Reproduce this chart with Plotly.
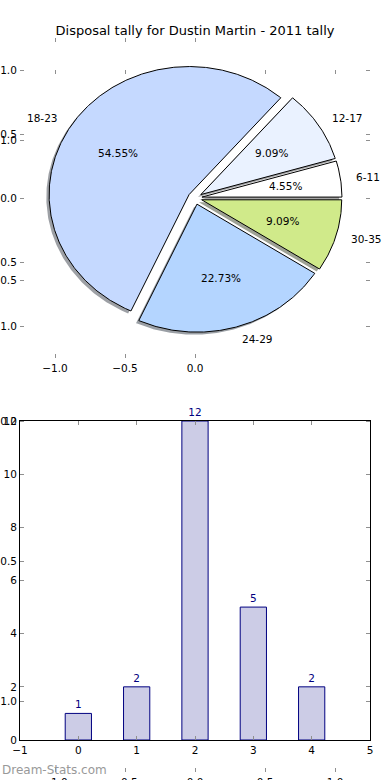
import numpy as np
import plotly.graph_objects as go

# ---- data ----
categories = ["6-11", "12-17", "18-23", "24-29", "30-35"]
tally = [1, 2, 12, 5, 2]
pie_colors = ["#ffffff", "#eaf2ff", "#c5d9ff", "#b4d5ff", "#d0ea8a"]
title = "Disposal tally for Dustin Martin - 2011 tally"
explode = 0.05
unit_ticks = [-1.0, -0.5, 0.0, 0.5, 1.0]
unit_text = ["\u22121.0", "\u22120.5", "0.0", "0.5", "1.0"]

W, H = 390, 780
FONT = "DejaVu Sans"
TICK = "#8f8f8f"


def px_x(p):
    return p / W


def px_y(p):
    return 1 - p / H


def hex_rgb(h):
    h = h.lstrip("#")
    return tuple(int(h[i:i + 2], 16) for i in (0, 2, 4))


fig = go.Figure()

# invisible trace so the full-figure background axes are drawn
fig.add_trace(go.Scatter(x=[0], y=[0], mode="markers", marker=dict(opacity=0),
                         xaxis="x", yaxis="y", hoverinfo="skip", showlegend=False))

# ---- pie drawn as wedges on a cartesian axis (xaxis2/yaxis2) ----
total = sum(tally)
start = 0.0
annotations = []
for cat, val, col in zip(categories, tally, pie_colors):
    span = 360.0 * val / total
    t1, t2 = start, start + span
    mid = np.deg2rad((t1 + t2) / 2)
    cx, cy = explode * np.cos(mid), explode * np.sin(mid)
    th = np.deg2rad(np.linspace(t1, t2, max(int(span * 2), 8)))
    xs = np.concatenate([[cx], cx + np.cos(th), [cx]])
    ys = np.concatenate([[cy], cy + np.sin(th), [cy]])
    r, g, b = hex_rgb(col)
    shadow = "rgba(%d,%d,%d,0.5)" % (int(0.3 * r), int(0.3 * g), int(0.3 * b))
    fig.add_trace(go.Scatter(x=xs - 0.02, y=ys - 0.02, mode="lines", fill="toself",
                             fillcolor=shadow, line=dict(width=0), xaxis="x2", yaxis="y2",
                             hoverinfo="skip", showlegend=False))
    fig.add_trace(go.Scatter(x=xs, y=ys, mode="lines", fill="toself", fillcolor=col,
                             line=dict(color="black", width=1), xaxis="x2", yaxis="y2",
                             hoverinfo="skip", showlegend=False))
    lx, ly = cx + 1.1 * np.cos(mid), cy + 1.1 * np.sin(mid)
    annotations.append(dict(x=lx, y=ly, xref="x2", yref="y2", text=cat, showarrow=False,
                            xanchor="left" if lx > 0 else "right", yanchor="middle",
                            font=dict(family=FONT, size=10.5, color="black")))
    pxp, pyp = cx + 0.6 * np.cos(mid), cy + 0.6 * np.sin(mid)
    annotations.append(dict(x=pxp, y=pyp, xref="x2", yref="y2",
                            text="%.2f%%" % (100.0 * val / total), showarrow=False,
                            xanchor="center", yanchor="middle",
                            font=dict(family=FONT, size=10.5, color="black")))
    start = t2

# ---- bar chart (xaxis3/yaxis3) ----
fig.add_trace(go.Bar(x=list(range(len(tally))), y=tally, width=0.45,
                     marker=dict(color="#ccccE6", line=dict(color="navy", width=1)),
                     text=[str(v) for v in tally], textposition="outside",
                     textfont=dict(family=FONT, size=10.5, color="navy"),
                     cliponaxis=False, xaxis="x3", yaxis="y3",
                     hoverinfo="skip", showlegend=False))

# watermark
annotations.append(dict(x=0, y=px_y(770), xref="paper", yref="paper", text="Dream-Stats.com",
                        showarrow=False, xanchor="left", yanchor="middle",
                        font=dict(family=FONT, size=12, color="#999999")))

tickfont = dict(family=FONT, size=10.5, color="black")
common = dict(ticks="inside", ticklen=4, tickwidth=1, tickcolor=TICK, showgrid=False,
              zeroline=False, tickfont=tickfont, fixedrange=True, automargin=False)
xdom = [px_x(20), px_x(370)]

fig.update_layout(
    width=W, height=H, margin=dict(l=0, r=0, t=0, b=0, autoexpand=False),
    paper_bgcolor="white", plot_bgcolor="rgba(0,0,0,0)",
    title=dict(text=title, x=0.5, xanchor="center", y=px_y(30), yanchor="middle",
               font=dict(family=FONT, size=13, color="black")),
    showlegend=False,
    annotations=annotations,
    # big background axes spanning the whole figure
    xaxis=dict(domain=xdom, range=[-1.25, 1.25], tickvals=unit_ticks, ticktext=unit_text,
               showline=True, linecolor="rgba(0,0,0,0)", mirror="ticks", anchor="y", **common),
    yaxis=dict(domain=[px_y(772), px_y(70)], range=[-1.25, 1.25], tickvals=unit_ticks,
               ticktext=unit_text, showline=True, linecolor="rgba(0,0,0,0)", mirror="ticks",
               anchor="x", **common),
    # pie axes
    xaxis2=dict(domain=xdom, range=[-1.25, 1.25], tickvals=[-1.0, -0.5, 0.0],
                ticktext=unit_text[:3], showline=True, linecolor="rgba(0,0,0,0)",
                mirror="ticks", anchor="y2", **common),
    yaxis2=dict(domain=[px_y(358), px_y(38)], range=[-1.25, 1.25], tickvals=unit_ticks,
                ticktext=unit_text, showline=True, linecolor="rgba(0,0,0,0)",
                mirror="ticks", anchor="x2", **common),
    # bar axes
    xaxis3=dict(domain=xdom, range=[-1, 5], tickvals=list(range(-1, 6)),
                ticktext=["\u22121", "0", "1", "2", "3", "4", "5"], showline=True,
                linecolor="black", linewidth=1, mirror="ticks", anchor="y3", **common),
    yaxis3=dict(domain=[px_y(740), px_y(421)], range=[0, 12], tickvals=list(range(0, 13, 2)),
                showline=True, linecolor="black", linewidth=1, mirror="ticks", anchor="x3",
                **common),
)

fig.write_html("out.html", config={"displayModeBar": False},
               post_script="document.body.style.margin='0';"
                           "document.body.style.overflow='hidden';")
